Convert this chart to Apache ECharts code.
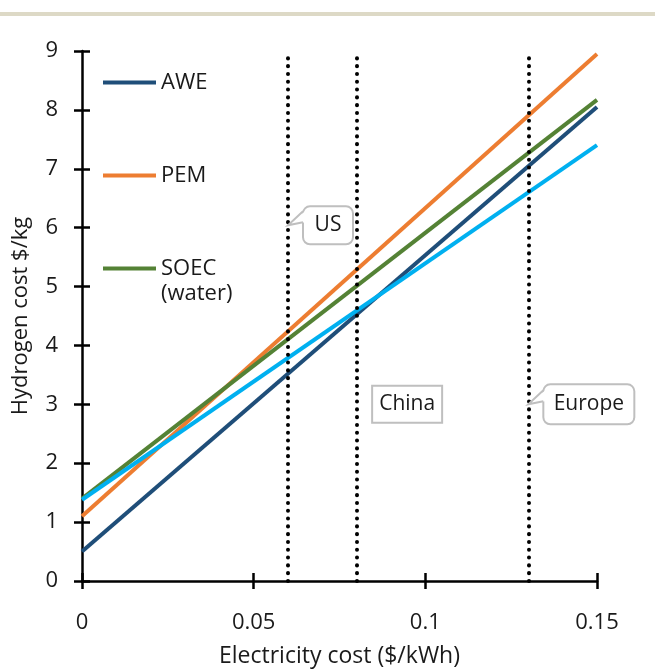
<!DOCTYPE html>
<html><head><meta charset="utf-8">
<script src="https://cdn.jsdelivr.net/npm/echarts@6/dist/echarts.min.js"></script>
<style>html,body{margin:0;padding:0;background:#fff}#c{width:655px;height:669px}</style>
</head><body><div id="c"></div>
<script>
// ---- data ----
const electricityCost = [0, 0.15];              // $/kWh (line endpoints)
const aweCost = [0.5, 8.05];                    // $/kg
const pemCost = [1.1, 8.95];
const soecWaterCost = [1.4, 8.17];
const soecOtherCost = [1.38, 7.40];             // light-blue line (no legend entry)
const seriesNames = ['AWE', 'PEM', 'SOEC (water)', 'SOEC (other)'];
const regionNames = ['US', 'China', 'Europe'];
const regionElectricityCost = [0.06, 0.08, 0.13];
const calloutX = [0.06, 0.0947, 0.13];
const calloutY = [6.04, 3.0, 3.0];
const xTicks = [0, 0.05, 0.1, 0.15];
const yTicks = [0, 1, 2, 3, 4, 5, 6, 7, 8, 9];

// ---- styles ----
const FONT = '"Open Sans", "Noto Sans", sans-serif';
const colors = ['#1F4E79', '#ED7D31', '#548235', '#00B0F0'];
const calloutWidth = [50, 70, 91];
const calloutHeight = [38, 37, 40];
const calloutPointer = [true, false, true];

function pairs(xs, ys) { return xs.map((x, i) => [x, ys[i]]); }
const valueSets = [aweCost, pemCost, soecWaterCost, soecOtherCost];

const lineSeries = valueSets.map((vals, i) => ({
  name: seriesNames[i], type: 'line', data: pairs(electricityCost, vals),
  symbol: 'none', z: 3,
  lineStyle: { color: colors[i], width: 4 }, itemStyle: { color: colors[i] }
}));

const axisCommon = {
  type: 'value',
  axisLine: { show: true, lineStyle: { color: '#000', width: 2.5 } },
  axisTick: { show: true, length: 8, lineStyle: { color: '#000', width: 2.5 } },
  splitLine: { show: false },
  axisLabel: { fontSize: 22, fontFamily: FONT, color: '#1a1a1a' },
  nameTextStyle: { fontSize: 22, fontFamily: FONT, color: '#1a1a1a' }
};

const option = {
  animation: false,
  backgroundColor: '#fff',
  grid: { left: 82, right: 58, top: 51, bottom: 88, containLabel: false, outerBoundsMode: 'none' },
  xAxis: [
    Object.assign({}, axisCommon, {
      position: 'bottom', min: xTicks[0], max: xTicks[xTicks.length - 1], interval: xTicks[1] - xTicks[0],
      name: 'Electricity cost ($/kWh)', nameLocation: 'middle', nameGap: 64,
      nameTextStyle: { fontSize: 23, fontFamily: FONT, color: '#1a1a1a' },
      axisLabel: Object.assign({}, axisCommon.axisLabel, { margin: 31 })
    }),
    Object.assign({}, axisCommon, {
      position: 'bottom', offset: 0, min: xTicks[0], max: xTicks[xTicks.length - 1], interval: xTicks[1] - xTicks[0],
      axisLine: { show: false }, axisLabel: { show: false },
      axisTick: { show: true, inside: true, length: 8, lineStyle: { color: '#000', width: 2.5 } }
    })
  ],
  yAxis: [
    Object.assign({}, axisCommon, {
      position: 'left', min: yTicks[0], max: yTicks[yTicks.length - 1], interval: yTicks[1] - yTicks[0],
      name: 'Hydrogen cost $/kg', nameLocation: 'middle', nameGap: 50,
      axisLabel: Object.assign({}, axisCommon.axisLabel, { margin: 24 })
    }),
    Object.assign({}, axisCommon, {
      position: 'left', offset: 0, min: yTicks[0], max: yTicks[yTicks.length - 1], interval: yTicks[1] - yTicks[0],
      axisLine: { show: false }, axisLabel: { show: false },
      axisTick: { show: true, inside: true, length: 8, lineStyle: { color: '#000', width: 2.5 } }
    })
  ],
  legend: {
    data: seriesNames.slice(0, 3),
    orient: 'vertical', left: 98, top: 40, padding: 5,
    icon: 'rect', itemWidth: 53, itemHeight: 4, itemGap: 18,
    textStyle: { fontSize: 22, fontFamily: FONT, color: '#1a1a1a', lineHeight: 25 },
    formatter: function (name) {
      if (name === 'SOEC (water)') return ' \nSOEC\n(water)';
      return ' \n' + name + '\n ';
    }
  },
  series: lineSeries.concat([{
    name: 'Regions', type: 'line', data: [], symbol: 'none',
    markLine: {
      silent: true, symbol: ['none', 'none'], label: { show: false },
      lineStyle: { color: '#000', width: 4, type: [0.1, 7.7], cap: 'round' },
      data: regionElectricityCost.map(x => [{ coord: [x, yTicks[0]] }, { coord: [x, yTicks[yTicks.length - 1]] }])
    }
  }])
};

const chart = echarts.init(document.getElementById('c'));
chart.setOption(option);

const g = [{ type: 'rect', silent: true, z: 100, shape: { x: 0, y: 12, width: 655, height: 4 }, style: { fill: '#DDD9C6' } }];
regionNames.forEach(function (label, i) {
  const p = chart.convertToPixel({ gridIndex: 0 }, [calloutX[i], calloutY[i]]);
  const w = calloutWidth[i], h = calloutHeight[i];
  let bx, cx;
  if (calloutPointer[i]) {
    bx = p[0] + 15; cx = bx + w / 2;
  } else {
    bx = p[0] - w / 2; cx = p[0];
  }
  const by = p[1] - h / 2;
  g.push({ type: 'rect', silent: true, z: 100,
    shape: { x: bx, y: by, width: w, height: h, r: calloutPointer[i] ? 7 : 0 },
    style: { fill: '#fff', stroke: '#BFBFBF', lineWidth: 2 } });
  if (calloutPointer[i]) {
    g.push({ type: 'polygon', silent: true, z: 101,
      shape: { points: [[p[0], p[1]], [bx + 2, p[1] - 14], [bx + 2, p[1] - 3]] },
      style: { fill: '#fff' } });
    g.push({ type: 'polyline', silent: true, z: 102,
      shape: { points: [[bx, p[1] - 14], [p[0], p[1]], [bx, p[1] - 3]] },
      style: { stroke: '#BFBFBF', lineWidth: 2, fill: null } });
  }
  g.push({ type: 'text', silent: true, z: 103,
    style: { text: label, x: cx, y: p[1], align: 'center', verticalAlign: 'middle',
      font: '21px ' + FONT, fill: '#1a1a1a' } });
});
chart.setOption({ graphic: g });
</script>
</body></html>
